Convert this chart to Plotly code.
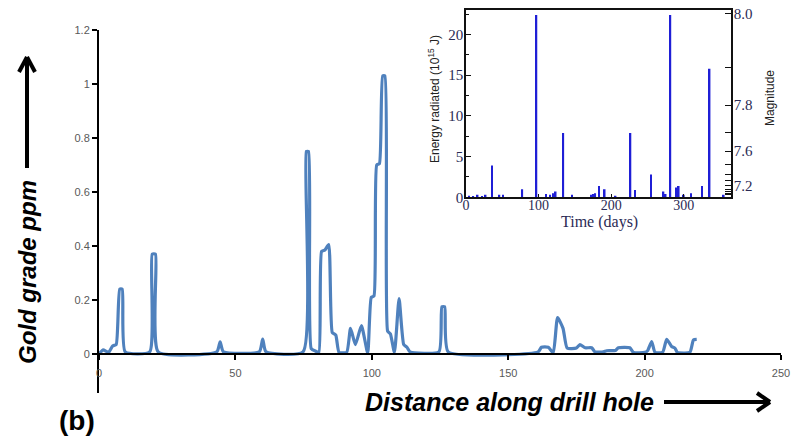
import plotly.graph_objects as go

# ---- gold grade along the drill hole (main panel) ----
distance_m = [0, 1.5, 3.5, 5.0, 6.3, 7.6, 8.5, 9.6,
              18.6, 19.5, 20.7, 21.7,
              43.2, 44.4, 45.6,
              58.8, 60.0, 61.2,
              74.8, 76.0, 76.8, 77.8, 79.5, 80.6, 81.6, 82.8, 84.2, 85.5, 86.8,
              88.0, 90.8, 92.2, 94.0, 96.2, 98.5, 99.8, 100.8, 101.8, 102.8,
              104.0, 104.8, 105.8, 106.8, 108.3, 110.0, 111.7, 112.9, 114.0,
              124.6, 125.7, 126.7, 128.0,
              161.0, 162.2, 164.7, 166.5, 168.1, 170.1, 171.6, 175.0, 176.3,
              178.2, 180.6, 181.8, 184.9, 186.1, 189.3, 190.4, 194.6, 195.9,
              200.1, 201.1, 202.6, 203.8, 206.6, 208.1, 209.9, 211.1, 212.0,
              216.6, 217.9, 219.1]
gold_ppm = [0.0, 0.015, 0.006, 0.03, 0.035, 0.24, 0.24, 0.008,
            0.008, 0.37, 0.37, 0.008,
            0.008, 0.045, 0.008,
            0.008, 0.055, 0.008,
            0.008, 0.75, 0.75, 0.02, 0.01, 0.006, 0.38, 0.385, 0.405, 0.08, 0.07,
            0.006, 0.006, 0.095, 0.035, 0.105, 0.004, 0.21, 0.215, 0.70, 0.705,
            1.03, 1.03, 0.085, 0.075, 0.006, 0.205, 0.035, 0.025, 0.008,
            0.008, 0.175, 0.175, 0.008,
            0.008, 0.025, 0.025, 0.004, 0.135, 0.095, 0.022, 0.022, 0.035,
            0.023, 0.023, 0.008, 0.008, 0.012, 0.013, 0.023, 0.023, 0.006,
            0.006, 0.012, 0.046, 0.006, 0.006, 0.054, 0.028, 0.022, 0.006,
            0.006, 0.052, 0.054]
x_ticks = [0, 50, 100, 150, 200, 250]
y_ticks = [0, 0.2, 0.4, 0.6, 0.8, 1.0, 1.2]

# ---- radiated energy per event (inset) ----
event_day = [4, 10, 16, 22, 27, 36, 46, 51, 77.5, 97, 110, 116, 120, 123.5,
             134, 146, 172, 175, 178, 183, 191, 206, 226.5, 233, 255, 272,
             275, 281.5, 289.5, 293, 300, 310, 325, 335.5, 355]
energy_1e15J = [0.2, 0.15, 0.3, 0.15, 0.3, 3.9, 0.3, 0.3, 1.0, 22.4, 0.4, 0.3,
                0.5, 0.7, 7.9, 0.3, 0.3, 0.4, 0.5, 1.4, 1.0, 0.2, 7.9, 0.9,
                2.8, 0.7, 0.4, 22.4, 1.2, 1.4, 0.3, 0.5, 1.4, 15.8, 0.3]
day_ticks = [0, 100, 200, 300]
energy_ticks = [0, 5, 10, 15, 20]
magnitude_labelled = [8.0, 7.8, 7.6, 7.2]
magnitude_minor = [7.9, 7.7, 7.5, 7.4, 7.3, 7.1, 7.0, 6.9, 6.8]
ENERGY_AT_M8 = 22.6  # energy axis value aligned with magnitude 8.0

W, H = 797, 440
ML, MR, MT, MB = 99, 16, 10, 47
PW, PH = W - ML - MR, H - MT - MB


def px(x):
    return (x - ML) / PW


def py(y):
    return (H - MB - y) / PH


def mag_to_energy(m):
    return ENERGY_AT_M8 * 10 ** (1.5 * (m - 8.0))


AXIS_GREY = "#595959"
INSET_INK = "#2b2b55"
SERIF = "Liberation Serif"
SANS = "Liberation Sans"

fig = go.Figure()
fig.add_trace(go.Scatter(
    x=distance_m, y=gold_ppm, mode="lines",
    line=dict(color="#4F81BD", width=3.2, shape="spline", smoothing=0.5),
    xaxis="x", yaxis="y", showlegend=False, hoverinfo="skip"))

fig.add_trace(go.Bar(
    x=event_day, y=energy_1e15J, width=2.3, marker=dict(color="#1f1fd6", line=dict(width=0)),
    xaxis="x2", yaxis="y2", showlegend=False, hoverinfo="skip"))

# magnitude scale (labelled and unlabelled ticks) shares the energy range
for ax in ("y3", "y4"):
    fig.add_trace(go.Scatter(x=[None], y=[None], xaxis="x2", yaxis=ax,
                             showlegend=False, hoverinfo="skip"))

tick_dark = "#111111"
fig.update_layout(
    width=W, height=H, margin=dict(l=ML, r=MR, t=MT, b=MB, autoexpand=False),
    paper_bgcolor="white", plot_bgcolor="rgba(0,0,0,0)",
    xaxis=dict(domain=[0, 1], range=[0, 250], anchor="free", position=py(354),
               showline=True, linecolor="black", linewidth=2,
               ticks="outside", ticklen=5, tickwidth=2, tickcolor="black",
               tickvals=x_ticks, ticklabelstandoff=4,
               tickfont=dict(family=SANS, size=11, color=AXIS_GREY),
               showgrid=False, zeroline=False),
    yaxis=dict(domain=[0, py(30)], range=[-39 / 270, 1.2], anchor="x",
               showline=True, linecolor="black", linewidth=2,
               ticks="outside", ticklen=5, tickwidth=2, tickcolor="black",
               tickvals=y_ticks,
               tickfont=dict(family=SANS, size=11, color=AXIS_GREY),
               showgrid=False, zeroline=False),
    xaxis2=dict(domain=[px(466), px(731)], range=[0, 365], anchor="y2",
                showline=True, mirror=True, linecolor=tick_dark, linewidth=1.6,
                ticks="inside", ticklen=4, tickcolor=tick_dark, tickvals=day_ticks,
                ticklabelstandoff=-6,
                tickfont=dict(family=SERIF, size=14, color=INSET_INK),
                showgrid=False, zeroline=False),
    yaxis2=dict(domain=[py(197.3), py(10)], range=[0, 23], anchor="x2",
                showline=True, mirror=True, linecolor=tick_dark, linewidth=1.6,
                ticks="inside", ticklen=5, tickcolor=tick_dark, tickvals=energy_ticks,
                minor=dict(ticks="inside", ticklen=3, dtick=2.5, tickcolor=tick_dark),
                ticklabelstandoff=-2,
                tickfont=dict(family=SERIF, size=15, color=INSET_INK),
                showgrid=False, zeroline=False),
    yaxis3=dict(overlaying="y2", side="right", anchor="x2", range=[0, 23],
                showline=True, linecolor=tick_dark, linewidth=1.6,
                ticks="inside", ticklen=6, tickcolor=tick_dark,
                tickvals=[mag_to_energy(m) for m in magnitude_labelled],
                ticktext=[f"{m:.1f}" for m in magnitude_labelled],
                ticklabelstandoff=-2,
                tickfont=dict(family=SERIF, size=15, color=INSET_INK),
                showgrid=False, zeroline=False),
    yaxis4=dict(overlaying="y2", side="right", anchor="x2", range=[0, 23],
                showline=False, ticks="inside", ticklen=6, tickcolor=tick_dark,
                tickvals=[mag_to_energy(m) for m in magnitude_minor],
                showticklabels=False, showgrid=False, zeroline=False),
)

annotations = [
    dict(text="<b><i>Gold grade ppm</i></b>", x=px(27), y=py(272), textangle=-90,
         font=dict(family=SANS, size=24, color="black")),
    dict(text="<b><i>Distance along drill hole</i></b>", x=px(509), y=py(402),
         font=dict(family=SANS, size=25, color="black")),
    dict(text="<b>(b)</b>", x=px(77), y=py(421),
         font=dict(family=SANS, size=28, color="black")),
    dict(text="Energy radiated (10<sup>15</sup> J)", x=px(434), y=py(99), textangle=-90,
         font=dict(family=SANS, size=12, color="#222222")),
    dict(text="Magnitude", x=px(770), y=py(98), textangle=-90,
         font=dict(family=SANS, size=12, color="#222222")),
    dict(text="Time (days)", x=px(599), y=py(222),
         font=dict(family=SERIF, size=16, color=INSET_INK)),
]
fig.update_layout(annotations=[dict(a, xref="paper", yref="paper", showarrow=False,
                                    xanchor="center", yanchor="middle") for a in annotations])

# hand-drawn style arrows beside the axis titles
arrow = dict(color="black", width=4)
segments = [
    ((27, 168), (27, 58)), ((27, 57), (19, 72)), ((27, 57), (35, 72)),
    ((664, 402), (769, 402)), ((770, 402), (757, 393)), ((770, 402), (757, 411)),
]
fig.update_layout(shapes=[dict(type="line", xref="paper", yref="paper",
                               x0=px(a[0]), y0=py(a[1]), x1=px(b[0]), y1=py(b[1]),
                               line=arrow) for a, b in segments])

fig.write_html("out.html")
